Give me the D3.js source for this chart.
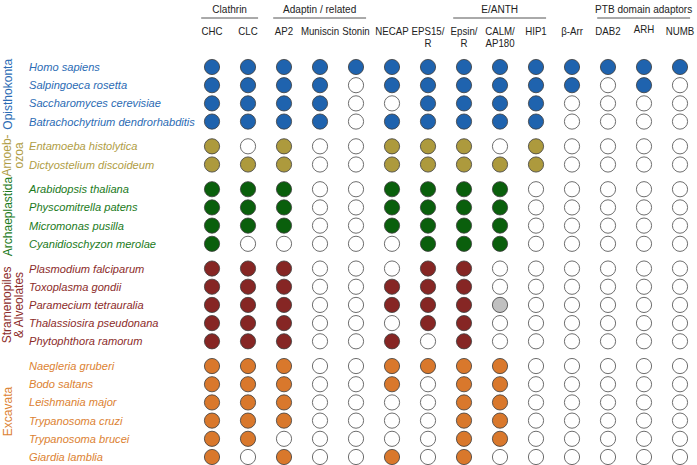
<!DOCTYPE html>
<html>
<head>
<meta charset="utf-8">
<script src="https://cdn.jsdelivr.net/npm/d3@7/dist/d3.min.js"></script>
<style>
  html, body { margin: 0; padding: 0; background: #fff; }
  svg { display: block; font-family: "Liberation Sans", Arial, sans-serif; }
</style>
</head>
<body>
<svg id="chart" width="697" height="465"></svg>
<script>
// ---------- DATA ----------
const columns = ["CHC","CLC","AP2","Muniscin","Stonin","NECAP","EPS15/R","Epsin/R","CALM/AP180","HIP1","β-Arr","DAB2","ARH","NUMB"];
const columnLabels = [["CHC"],["CLC"],["AP2"],["Muniscin"],["Stonin"],["NECAP"],["EPS15/","R"],["Epsin/","R"],["CALM/","AP180"],["HIP1"],["β-Arr"],["DAB2"],["ARH"],["NUMB"]];
const headerGroups = ["Clathrin","Adaptin / related","E/ANTH","PTB domain adaptors"];
const headerFirst = ["CHC","AP2","Epsin/R","DAB2"];
const headerLast  = ["CLC","Stonin","HIP1","NUMB"];

const groups = ["Opisthokonta","Amoebozoa","Archaeplastida","Stramenopiles & Alveolates","Excavata"];
const groupLabelLines = [["Opisthokonta"],["Amoeb-","ozoa"],["Archaeplastida"],["Stramenopiles","& Alveolates"],["Excavata"]];
const groupColors = ["#1f63ae","#ad9a3d","#0a5f0c","#862624","#d9782c"];
const groupTextColors = ["#2b6bb4","#b09d45","#1b7a1b","#8c2c2a","#dc8232"];

const species = [
  "Homo sapiens","Salpingoeca rosetta","Saccharomyces cerevisiae","Batrachochytrium dendrorhabditis",
  "Entamoeba histolytica","Dictyostelium discoideum",
  "Arabidopsis thaliana","Physcomitrella patens","Micromonas pusilla","Cyanidioschyzon merolae",
  "Plasmodium falciparum","Toxoplasma gondii","Paramecium tetrauralia","Thalassiosira pseudonana","Phytophthora ramorum",
  "Naegleria gruberi","Bodo saltans","Leishmania major","Trypanosoma cruzi","Trypanosoma brucei","Giardia lamblia"
];
const speciesGroup = [0,0,0,0, 1,1, 2,2,2,2, 3,3,3,3,3, 4,4,4,4,4,4];

// 1 = present, 0 = absent, 2 = uncertain (grey)
const presence = [
  [1,1,1,1,1,1,1,1,1,1,1,1,1,1],
  [1,1,1,1,0,1,1,1,1,1,1,0,1,0],
  [1,1,1,1,0,0,1,1,1,1,0,0,0,0],
  [1,1,1,1,0,1,1,1,1,1,0,0,0,0],
  [1,0,1,0,0,1,1,1,0,1,0,0,0,0],
  [1,1,1,0,0,1,1,1,1,1,0,0,0,0],
  [1,1,1,0,0,1,1,1,1,0,0,0,0,0],
  [1,1,1,0,0,1,1,1,1,0,0,0,0,0],
  [1,1,1,0,0,1,1,1,1,0,0,0,0,0],
  [1,0,0,0,0,0,1,1,1,0,0,0,0,0],
  [1,1,1,0,0,0,1,1,0,0,0,0,0,0],
  [1,1,1,0,0,1,1,1,0,0,0,0,0,0],
  [1,1,1,0,0,1,1,1,2,0,0,0,0,0],
  [1,1,1,0,0,0,1,1,0,0,0,0,0,0],
  [1,1,1,0,0,1,0,1,0,0,0,0,0,0],
  [1,1,1,0,0,1,1,1,1,0,0,0,0,0],
  [1,1,1,0,0,1,0,1,1,0,0,0,0,0],
  [1,1,1,0,0,0,0,1,1,0,0,0,0,0],
  [1,1,1,0,0,0,0,1,1,0,0,0,0,0],
  [1,1,0,0,0,0,0,1,1,0,0,0,0,0],
  [1,0,1,0,0,1,0,1,0,0,0,0,0,0]
];

// ---------- LAYOUT ----------
const svg = d3.select("#chart");
const gapUnits = 0.36; // extra space between taxonomic groups, in row units
const slot = species.map((s, i) => i + speciesGroup[i] * gapUnits);
const maxSlot = d3.max(slot);

const x = d3.scalePoint().domain(columns).range([212, 680]);
const y = d3.scaleLinear().domain([0, maxSlot]).range([67, 457]);
const step = x.step();
const r = 7.6;
const narrow = 0.89; // header font is a condensed sans

// header group titles and rules
headerGroups.forEach((g, i) => {
  const x0 = x(headerFirst[i]) - step * 0.3;
  const x1 = x(headerLast[i]) + step * 0.28;
  svg.append("line")
    .attr("x1", x0).attr("x2", x1).attr("y1", 18).attr("y2", 18)
    .attr("stroke", "#555").attr("stroke-width", 1);
  svg.append("text")
    .attr("transform", `translate(${(x0 + x1) / 2},12.5) scale(${narrow},1)`)
    .attr("text-anchor", "middle")
    .attr("font-size", 11.3).attr("fill", "#222")
    .text(g);
});

// column labels
const colG = svg.append("g");
columns.forEach((c, i) => {
  const t = colG.append("text")
    .attr("transform", `translate(${x(c)},${c === "ARH" ? 33 : 35}) scale(${narrow},1)`)
    .attr("text-anchor", "middle")
    .attr("font-size", 10.9).attr("fill", "#222");
  columnLabels[i].forEach((line, k) => {
    t.append("tspan").attr("x", 0).attr("dy", k === 0 ? 0 : 12).text(line);
  });
});

// species labels
svg.append("g").selectAll("text").data(species).join("text")
  .attr("x", 29)
  .attr("y", (d, i) => y(slot[i]) + 4)
  .attr("font-size", 11.1)
  .attr("font-style", "italic")
  .attr("fill", (d, i) => groupTextColors[speciesGroup[i]])
  .text(d => d);

// group labels (rotated)
groups.forEach((g, gi) => {
  const idx = d3.range(species.length).filter(i => speciesGroup[i] === gi);
  const cy = (y(slot[idx[0]]) + y(slot[idx[idx.length - 1]])) / 2;
  const lines = groupLabelLines[gi];
  lines.forEach((line, k) => {
    const bx = lines.length === 1 ? 11.5 : 10.5 + k * 12;
    svg.append("text")
      .attr("transform", `translate(${bx},${cy}) rotate(-90)`)
      .attr("text-anchor", "middle")
      .attr("font-size", 12)
      .attr("fill", groupTextColors[gi])
      .text(line);
  });
});

// dots
const cells = [];
presence.forEach((row, i) => row.forEach((v, j) => cells.push({ i, j, v })));
svg.append("g").selectAll("circle").data(cells).join("circle")
  .attr("cx", d => x(columns[d.j]))
  .attr("cy", d => y(slot[d.i]))
  .attr("r", r)
  .attr("fill", d => d.v === 1 ? groupColors[speciesGroup[d.i]] : d.v === 2 ? "#c0c0c0" : "#fff")
  .attr("stroke", d => d.v === 0 ? "#6e6e6e" : "#3b3b3b")
  .attr("stroke-width", d => d.v === 0 ? 1 : 0.8);
</script>
</body>
</html>
